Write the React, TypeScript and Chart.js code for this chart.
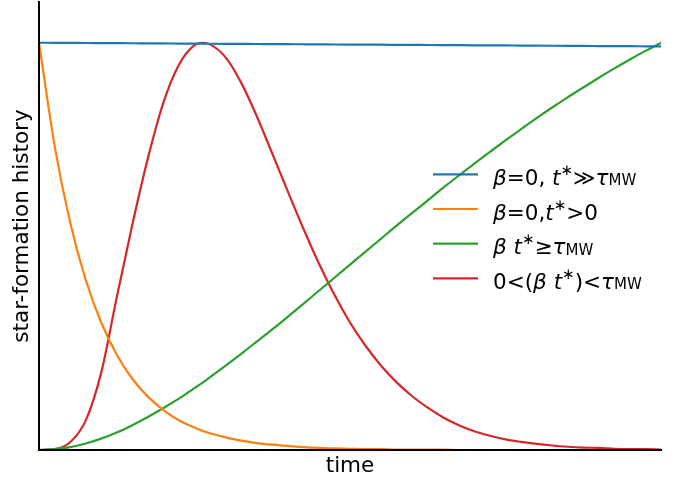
import { useEffect, useRef } from "react";
import { Chart, registerables } from "chart.js";

Chart.register(...registerables);

// Normalised star-formation histories sampled over time (arbitrary units)
const timeSteps = [
  0, 0.025, 0.05, 0.075, 0.1, 0.125, 0.15, 0.175, 0.2, 0.225, 0.25, 0.2625,
  0.275, 0.3, 0.325, 0.35, 0.375, 0.4, 0.425, 0.45, 0.475, 0.5, 0.525, 0.55,
  0.575, 0.6, 0.625, 0.65, 0.675, 0.7, 0.725, 0.75, 0.775, 0.8, 0.825, 0.85,
  0.875, 0.9, 0.925, 0.95, 0.975, 1,
];

const constantSfh = [
  1.0, 0.9998, 0.9996, 0.9993, 0.9991, 0.9989, 0.9987, 0.9984, 0.9982, 0.998,
  0.9978, 0.9976, 0.9975, 0.9973, 0.9971, 0.9969, 0.9966, 0.9964, 0.9962,
  0.996, 0.9957, 0.9955, 0.9953, 0.9951, 0.9948, 0.9946, 0.9944, 0.9942,
  0.9939, 0.9937, 0.9935, 0.9933, 0.993, 0.9928, 0.9926, 0.9924, 0.9921,
  0.9919, 0.9917, 0.9915, 0.9912, 0.991,
];

const decayingSfh = [
  1.0, 0.748, 0.559, 0.418, 0.313, 0.234, 0.175, 0.131, 0.098, 0.073, 0.055,
  0.047, 0.041, 0.031, 0.023, 0.017, 0.013, 0.01, 0.007, 0.005, 0.004, 0.003,
  0.002, 0.002, 0.001, 0.001, 0.001, 0.001, 0, 0, 0, 0, 0, 0, 0, 0, 0, 0, 0, 0,
  0, 0,
];

const risingSfh = [
  0, 0.002, 0.007, 0.016, 0.028, 0.043, 0.061, 0.081, 0.103, 0.126, 0.152,
  0.165, 0.179, 0.207, 0.236, 0.266, 0.296, 0.327, 0.359, 0.391, 0.423, 0.455,
  0.487, 0.519, 0.551, 0.582, 0.613, 0.644, 0.674, 0.703, 0.732, 0.76, 0.788,
  0.815, 0.841, 0.866, 0.89, 0.914, 0.937, 0.959, 0.98, 1.0,
];

const peakedSfh = [
  0, 0.002, 0.019, 0.072, 0.19, 0.375, 0.553, 0.716, 0.853, 0.946, 0.994, 1.0,
  0.996, 0.964, 0.902, 0.82, 0.728, 0.635, 0.544, 0.458, 0.381, 0.313, 0.256,
  0.207, 0.166, 0.132, 0.104, 0.08, 0.061, 0.046, 0.035, 0.026, 0.02, 0.015,
  0.011, 0.008, 0.006, 0.005, 0.003, 0.002, 0.002, 0.001,
];

const seriesNames = ["β=0, t*≫τMW", "β=0,t*>0", "β t*≥τMW", "0<(β t*)<τMW"];
const seriesColors = ["#1f77b4", "#ff7f0e", "#2ca02c", "#d62728"];
const seriesValues = [constantSfh, decayingSfh, risingSfh, peakedSfh];

// Legend labels as typeset runs: n = upright, i = italic, sup/sub = scripts
type Run = [string, "n" | "i" | "sup" | "sub"];
const legendRuns: Run[][] = [
  [["β", "i"], ["=", "n"], ["0", "n"], [",", "n"], [" ", "n"], ["t", "i"], ["∗", "sup"], ["≫", "n"], ["τ", "i"], ["MW", "sub"]],
  [["β", "i"], ["=", "n"], ["0", "n"], [",", "n"], ["t", "i"], ["∗", "sup"], [">", "n"], ["0", "n"]],
  [["β", "i"], [" ", "n"], ["t", "i"], ["∗", "sup"], ["≥", "n"], ["τ", "i"], ["MW", "sub"]],
  [["0", "n"], ["<", "n"], ["(", "n"], ["β", "i"], [" ", "n"], ["t", "i"], ["∗", "sup"], [")", "n"], ["<", "n"], ["τ", "i"], ["MW", "sub"]],
];

const FONT = '"DejaVu Sans"';
const TEXT_SIZE = 21.5;
const SCRIPT_SIZE = 15;

const spinesPlugin = {
  id: "spines",
  afterDatasetsDraw(chart: any) {
    const { ctx, chartArea } = chart;
    ctx.save();
    ctx.strokeStyle = "#000";
    ctx.lineWidth = 2;
    ctx.lineCap = "square";
    ctx.beginPath();
    ctx.moveTo(chartArea.left, chartArea.top);
    ctx.lineTo(chartArea.left, chartArea.bottom);
    ctx.lineTo(chartArea.right, chartArea.bottom);
    ctx.stroke();
    ctx.restore();
  },
};

const mathLegendPlugin = {
  id: "mathLegend",
  afterDraw(chart: any) {
    const { ctx, chartArea } = chart;
    const lineStart = chartArea.right - 228;
    const lineEnd = lineStart + 45;
    const textStart = lineEnd + 15;
    const firstRow = chartArea.top + 172.3;
    const rowGap = 34.7;
    ctx.save();
    legendRuns.forEach((runs, i) => {
      const cy = firstRow + i * rowGap;
      ctx.strokeStyle = seriesColors[i];
      ctx.lineWidth = 2.2;
      ctx.beginPath();
      ctx.moveTo(lineStart, cy);
      ctx.lineTo(lineEnd, cy);
      ctx.stroke();
      let x = textStart;
      const base = cy + 10.5;
      ctx.fillStyle = "#000";
      ctx.textBaseline = "alphabetic";
      ctx.textAlign = "left";
      for (const [text, kind] of runs) {
        const small = kind === "sup" || kind === "sub";
        const size = small ? SCRIPT_SIZE : TEXT_SIZE;
        ctx.font = `${kind === "i" ? "italic " : ""}${size}px ${FONT}`;
        const dy = kind === "sup" ? -10 : kind === "sub" ? 0.5 : 0;
        ctx.fillText(text, x, base + dy);
        x += ctx.measureText(text).width;
      }
    });
    ctx.restore();
  },
};

export default function App() {
  const canvasRef = useRef<HTMLCanvasElement | null>(null);

  useEffect(() => {
    if (!canvasRef.current) return;
    const chart = new Chart(canvasRef.current, {
      type: "line",
      data: {
        datasets: seriesValues.map((values, i) => ({
          label: seriesNames[i],
          data: values.map((v, k) => ({ x: timeSteps[k], y: v })),
          borderColor: seriesColors[i],
          backgroundColor: seriesColors[i],
          borderWidth: 2.2,
          pointRadius: 0,
          cubicInterpolationMode: "monotone" as const,
          fill: false,
        })),
      },
      options: {
        animation: false,
        responsive: false,
        events: [],
        layout: { padding: { left: 0, top: 2, right: 22, bottom: 0 } },
        plugins: {
          legend: { display: false },
          tooltip: { enabled: false },
        },
        scales: {
          x: {
            type: "linear",
            min: 0,
            max: 1,
            grid: { display: false },
            border: { display: false },
            ticks: { display: false },
            title: {
              display: true,
              text: "time",
              color: "#000",
              font: { family: FONT, size: TEXT_SIZE },
              padding: { top: 0, bottom: 2 },
            },
            afterFit(scale: any) {
              scale.height = 31;
            },
          },
          y: {
            min: 0,
            max: 1.1,
            grid: { display: false },
            border: { display: false },
            ticks: { display: false },
            title: {
              display: true,
              text: "star-formation history",
              color: "#000",
              font: { family: FONT, size: TEXT_SIZE },
              padding: { top: 10, bottom: 0 },
            },
            afterFit(scale: any) {
              scale.width = 39;
            },
          },
        },
      },
      plugins: [spinesPlugin, mathLegendPlugin],
    });
    return () => chart.destroy();
  }, []);

  return (
    <div style={{ position: "absolute", left: 0, top: 0, width: 683, height: 481, background: "#fff" }}>
      <canvas ref={canvasRef} width={683} height={481} />
    </div>
  );
}
